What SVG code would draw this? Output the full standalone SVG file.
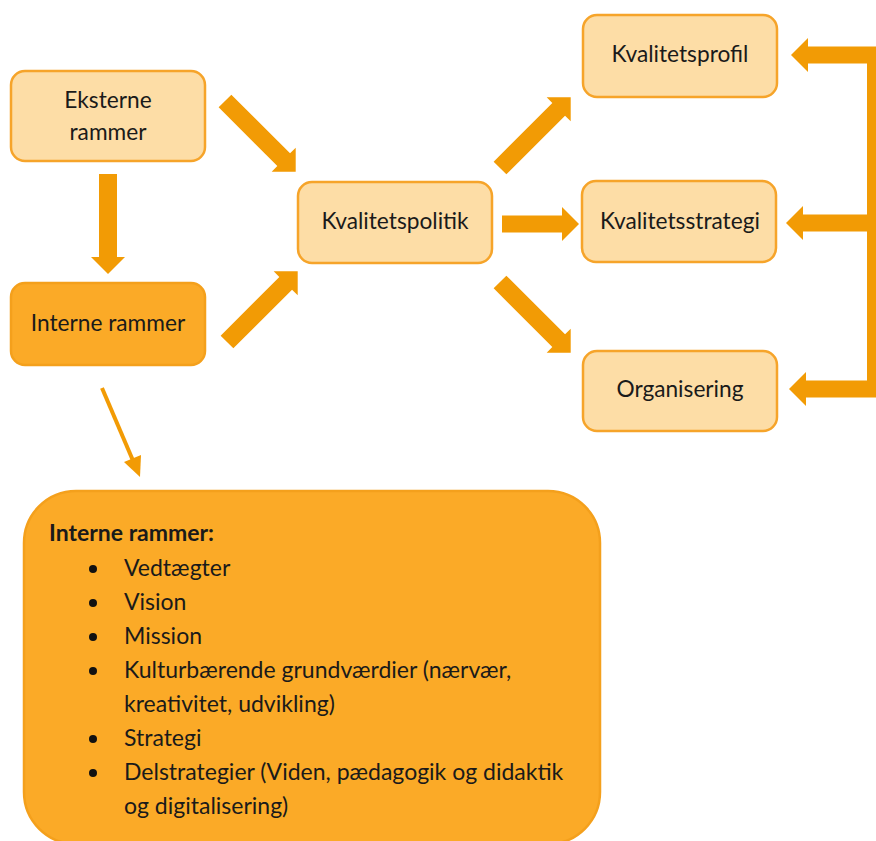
<svg xmlns="http://www.w3.org/2000/svg" width="876" height="841" viewBox="0 0 876 841">
  <style>
    .light { fill: #FDDDA6; stroke: #F6A42A; stroke-width: 2.5; }
    .dark { fill: #FBAA27; stroke: #F4A01C; stroke-width: 2.5; }
    .lbl { font-family: Lato, "Noto Sans", sans-serif; font-size: 22.7px; fill: #1a1a1a; text-anchor: middle; }
    .list { font-family: Lato, "Noto Sans", sans-serif; font-size: 23px; fill: #1a1a1a; }
    .bold { font-weight: bold; }
    .blk { fill: #F29B05; }
    .thin { stroke: #F29B05; stroke-width: 4; fill: none; }
  </style>
  <defs>
    <!-- block arrow, 100 long, pointing along +x from origin -->
    <path id="blk100" d="M0,-9 H83 V-17 L100,0 L83,17 V9 H0 Z"/>
  </defs>
  <rect width="876" height="841" fill="#ffffff"/>

  <g id="connectors">
    <!-- Eksterne -> Interne -->
    <path class="blk" d="M99,174 H117 V257 H125 L108,274 L91,257 H99 Z"/>
    <!-- Eksterne -> Kvalitetspolitik -->
    <use href="#blk100" class="blk" transform="translate(225,101) rotate(45)"/>
    <!-- Interne -> Kvalitetspolitik -->
    <use href="#blk100" class="blk" transform="translate(227,342) rotate(-45)"/>
    <!-- Kvalitetspolitik -> outputs -->
    <use href="#blk100" class="blk" transform="translate(500,168) rotate(-45)"/>
    <path class="blk" d="M502,215.5 H562 V207 L579,224 L562,241 V232.5 H502 Z"/>
    <use href="#blk100" class="blk" transform="translate(500,282) rotate(45)"/>
    <!-- feedback bracket on the right -->
    <path d="M807,55 H875.5 V389 H805 M802,223 H876" stroke="#F29B05" stroke-width="17" fill="none" stroke-linejoin="miter"/>
    <path class="blk" d="M808,38 L791,55 L808,72 Z"/>
    <path class="blk" d="M803,206 L786,223 L803,240 Z"/>
    <path class="blk" d="M806,372 L789,389 L806,406 Z"/>
    <!-- Interne rammer -> detail box -->
    <line class="thin" x1="102" y1="388" x2="137" y2="470"/>
    <path class="blk" d="M140,477 L124,462 L141,455 Z"/>
  </g>

  <g id="eksterne">
    <rect class="light" x="11" y="71" width="194" height="90" rx="14"/>
    <text class="lbl" x="108" y="108">Eksterne</text>
    <text class="lbl" x="108" y="140">rammer</text>
  </g>
  <g id="interne">
    <rect class="dark" x="11" y="283" width="194" height="82" rx="14"/>
    <text class="lbl" x="108" y="331">Interne rammer</text>
  </g>
  <g id="kvalitetspolitik">
    <rect class="light" x="298" y="182" width="194" height="81" rx="14"/>
    <text class="lbl" x="395" y="229">Kvalitetspolitik</text>
  </g>
  <g id="kvalitetsprofil">
    <rect class="light" x="583" y="15" width="194" height="82" rx="14"/>
    <text class="lbl" x="680" y="62">Kvalitetsprofil</text>
  </g>
  <g id="kvalitetsstrategi">
    <rect class="light" x="582" y="181" width="194" height="81" rx="14"/>
    <text class="lbl" x="680" y="229">Kvalitetsstrategi</text>
  </g>
  <g id="organisering">
    <rect class="light" x="583" y="351" width="194" height="80" rx="14"/>
    <text class="lbl" x="680" y="397">Organisering</text>
  </g>

  <g id="interne-detail">
    <rect class="dark" x="24" y="491" width="576" height="353" rx="52"/>
    <text class="list bold" x="49" y="541">Interne rammer:</text>
    <g fill="#111">
      <circle cx="93" cy="569" r="4"/>
      <circle cx="93" cy="603" r="4"/>
      <circle cx="93" cy="637" r="4"/>
      <circle cx="93" cy="671" r="4"/>
      <circle cx="93" cy="739" r="4"/>
      <circle cx="93" cy="773" r="4"/>
    </g>
    <text class="list" x="124" y="576">Vedtægter</text>
    <text class="list" x="124" y="610">Vision</text>
    <text class="list" x="124" y="644">Mission</text>
    <text class="list" x="124" y="678">Kulturbærende grundværdier (nærvær,</text>
    <text class="list" x="124" y="712">kreativitet, udvikling)</text>
    <text class="list" x="124" y="746">Strategi</text>
    <text class="list" x="124" y="780">Delstrategier (Viden, pædagogik og didaktik</text>
    <text class="list" x="124" y="814">og digitalisering)</text>
  </g>
</svg>
